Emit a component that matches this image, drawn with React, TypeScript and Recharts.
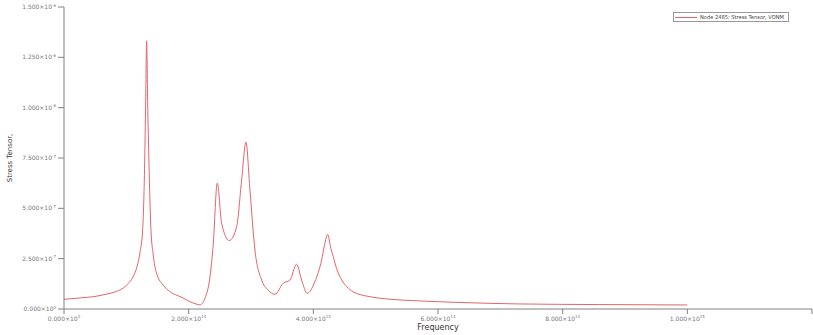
import React from 'react';
import { LineChart, Line, XAxis, YAxis, Legend } from 'recharts';

// frequency (Hz) and von Mises stress
const frequencies = [
  0, 2.566e13, 4.651e13, 6.576e13, 8.18e13, 9.3e13, 1.026e14, 1.107e14, 1.171e14, 1.219e14,
  1.262e14, 1.294e14, 1.31e14, 1.326e14, 1.342e14, 1.363e14, 1.395e14, 1.427e14, 1.459e14, 1.507e14,
  1.588e14, 1.7e14, 1.812e14, 1.909e14, 2.021e14, 2.117e14, 2.181e14, 2.261e14, 2.342e14, 2.394e14,
  2.459e14, 2.529e14, 2.651e14, 2.77e14, 2.85e14, 2.919e14, 2.983e14, 3.063e14, 3.171e14, 3.27e14,
  3.384e14, 3.517e14, 3.625e14, 3.732e14, 3.812e14, 3.902e14, 4.025e14, 4.133e14, 4.181e14, 4.229e14,
  4.282e14, 4.319e14, 4.374e14, 4.454e14, 4.539e14, 4.635e14, 4.908e14, 5.18e14, 5.71e14, 6.511e14,
  7.313e14, 8.596e14, 1.0e15,
];
const stress = [
  0.048e-6, 0.055e-6, 0.061e-6, 0.072e-6, 0.085e-6, 0.1e-6, 0.125e-6, 0.159e-6, 0.21e-6, 0.28e-6,
  0.393e-6, 0.726e-6, 1.03e-6, 1.332e-6, 1.03e-6, 0.726e-6, 0.393e-6, 0.28e-6, 0.21e-6, 0.159e-6,
  0.12e-6, 0.086e-6, 0.068e-6, 0.055e-6, 0.036e-6, 0.025e-6, 0.02e-6, 0.053e-6, 0.16e-6, 0.32e-6,
  0.625e-6, 0.426e-6, 0.34e-6, 0.409e-6, 0.641e-6, 0.829e-6, 0.591e-6, 0.293e-6, 0.144e-6, 0.095e-6,
  0.073e-6, 0.128e-6, 0.144e-6, 0.222e-6, 0.144e-6, 0.078e-6, 0.136e-6, 0.244e-6, 0.32e-6, 0.371e-6,
  0.3e-6, 0.26e-6, 0.2e-6, 0.145e-6, 0.11e-6, 0.086e-6, 0.061e-6, 0.05e-6, 0.04e-6, 0.031e-6,
  0.025e-6, 0.022e-6, 0.02e-6,
];

const xTicks = [0, 2e14, 4e14, 6e14, 8e14, 1e15, 1.2e15];
const xTickLabels = ['0.000×10^0', '2.000×10^14', '4.000×10^14', '6.000×10^14', '8.000×10^14', '1.000×10^15', ''];
const yTicks = [0, 2.5e-7, 5e-7, 7.5e-7, 1e-6, 1.25e-6, 1.5e-6];
const yTickLabels = ['0.000×10^0', '2.500×10^-7', '5.000×10^-7', '7.500×10^-7', '1.000×10^-6', '1.250×10^-6', '1.500×10^-6'];

const seriesName = 'Node 2485: Stress Tensor, VONM';
const lineColor = '#e5646a';
const axisColor = '#808080';
const font = '"DejaVu Sans", Verdana, sans-serif';

const data = frequencies.map((f, i) => ({ freq: f, value: stress[i] }));

function SciText({ label, ...rest }: any) {
  if (!label) return null;
  const [base, exp] = label.split('^');
  return (
    <text {...rest} fontFamily={font} fontSize={6} fill="#777">
      {base}
      <tspan fontSize={4} dy={-2.5}>{exp}</tspan>
    </text>
  );
}

function XTick({ x, y, index }: any) {
  return <SciText label={xTickLabels[index]} x={x} y={y} dy={4.5} textAnchor="middle" />;
}

function YTick({ x, y, index }: any) {
  return <SciText label={yTickLabels[index]} x={x} y={y} dy={2} textAnchor="end" />;
}

// legend drawn as svg so small text keeps its exact size
function LegendBox() {
  return (
    <svg width={117} height={11} style={{ display: 'block' }}>
      <rect x={0.5} y={0.5} width={115} height={9} fill="#fff" stroke="#999" />
      <line x1={2} x2={24} y1={5.5} y2={5.5} stroke={lineColor} strokeWidth={1} />
      <text
        x={27}
        y={7.4}
        fontFamily={font}
        fontSize={5.4}
        fill="#444"
        textLength={84}
        lengthAdjust="spacingAndGlyphs"
      >
        {seriesName}
      </text>
    </svg>
  );
}

export default function App() {
  return (
    <div style={{ position: 'absolute', left: 0, top: 0 }}>
      <LineChart width={813} height={335} data={data} margin={{ top: 7, right: 1, left: 0, bottom: 0 }}>
        <XAxis
          dataKey="freq"
          type="number"
          domain={[0, 1.2e15]}
          ticks={xTicks}
          interval={0}
          height={26}
          stroke={axisColor}
          tickSize={5}
          tick={<XTick />}
          label={{ value: 'Frequency', position: 'insideBottom', offset: 5, fill: '#333', fontSize: 8, fontFamily: font }}
        />
        <YAxis
          type="number"
          domain={[0, 1.5e-6]}
          ticks={yTicks}
          interval={0}
          width={64}
          stroke={axisColor}
          tickSize={6}
          tick={<YTick />}
          label={{
            value: 'Stress Tensor,',
            angle: -90,
            position: 'insideLeft',
            offset: 10,
            fill: '#333',
            fontSize: 7,
            fontFamily: font,
            style: { textAnchor: 'middle' },
          }}
        />
        <Legend
          layout="vertical"
          align="center"
          verticalAlign="middle"
          content={() => <LegendBox />}
          wrapperStyle={{ left: 673, top: 12, width: 117 }}
        />
        <Line
          type="monotone"
          dataKey="value"
          name={seriesName}
          stroke={lineColor}
          strokeWidth={1}
          dot={false}
          isAnimationActive={false}
        />
      </LineChart>
    </div>
  );
}
